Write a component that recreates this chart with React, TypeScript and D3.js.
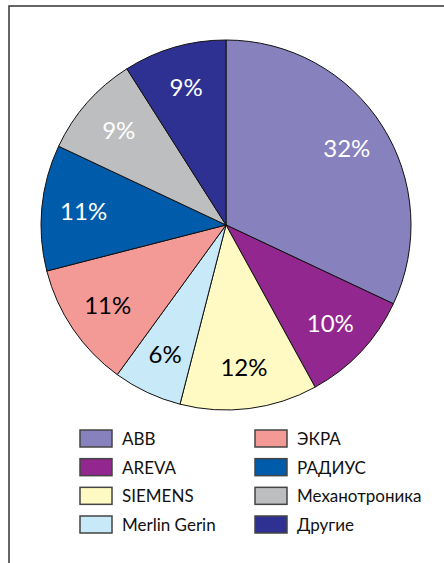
import * as React from "react";
import * as d3 from "d3";

const companies = ["ABB", "AREVA", "SIEMENS", "Merlin Gerin", "ЭКРА", "РАДИУС", "Механотроника", "Другие"];
const shares = [32, 10, 12, 6, 11, 11, 9, 9];
const colors = ["#8781bd", "#92278f", "#fff9c4", "#c7e9f8", "#f49a96", "#005baa", "#bcbec0", "#2e3192"];
const labelColors = ["#fff", "#fff", "#000", "#000", "#000", "#fff", "#fff", "#fff"];

const W = 444;
const H = 563;

export default function App() {
  const ref = React.useRef<SVGSVGElement>(null);

  React.useEffect(() => {
    const svg = d3.select(ref.current);
    svg.selectAll("*").remove();

    // open frame: top and left lines only
    svg.append("path")
      .attr("d", `M9,${H} L9,6 L${W},6`)
      .attr("fill", "none")
      .attr("stroke", "#333")
      .attr("stroke-width", 1.5);

    const cx = 226, cy = 225, R = 185;
    const g = svg.append("g").attr("transform", `translate(${cx},${cy})`);

    const pie = d3.pie<number>().sort(null).value((d) => d);
    const arcs = pie(shares);
    const arc = d3.arc<d3.PieArcDatum<number>>().innerRadius(0).outerRadius(R);
    const labelArc = d3.arc<d3.PieArcDatum<number>>().innerRadius(143).outerRadius(143);

    g.selectAll("path.slice")
      .data(arcs)
      .enter()
      .append("path")
      .attr("class", "slice")
      .attr("d", arc)
      .attr("fill", (_, i) => colors[i])
      .attr("stroke", "#111")
      .attr("stroke-width", 1);

    g.selectAll("text.pct")
      .data(arcs)
      .enter()
      .append("text")
      .attr("class", "pct")
      .attr("transform", (d) => `translate(${labelArc.centroid(d)})`)
      .attr("text-anchor", "middle")
      .attr("dy", "0.36em")
      .attr("fill", (_, i) => labelColors[i])
      .style("font-family", "Lato, 'DejaVu Sans', sans-serif")
      .style("font-size", "24px")
      .text((d) => `${d.data}%`);

    // legend, two columns of four
    const legend = svg.append("g").attr("transform", "translate(80,430)");
    const colX = d3.scalePoint<number>().domain([0, 1]).range([0, 175]);
    const rowY = d3.scalePoint<number>().domain([0, 1, 2, 3]).range([0, 86]);

    const items = legend.selectAll("g.item")
      .data(companies)
      .enter()
      .append("g")
      .attr("class", "item")
      .attr("transform", (_, i) => `translate(${colX(Math.floor(i / 4))},${rowY(i % 4)})`);

    items.append("rect")
      .attr("width", 32)
      .attr("height", 17)
      .attr("fill", (_, i) => colors[i])
      .attr("stroke", "#444")
      .attr("stroke-width", 1.5);

    items.append("text")
      .attr("x", 42)
      .attr("y", 9)
      .attr("dy", "0.35em")
      .attr("fill", "#111")
      .style("font-family", "Lato, 'DejaVu Sans', sans-serif")
      .style("font-size", "17px")
      .text((d) => d);
  }, []);

  return (
    <svg
      ref={ref}
      width={W}
      height={H}
      style={{ position: "absolute", left: 0, top: 0, background: "#fff" }}
    />
  );
}
